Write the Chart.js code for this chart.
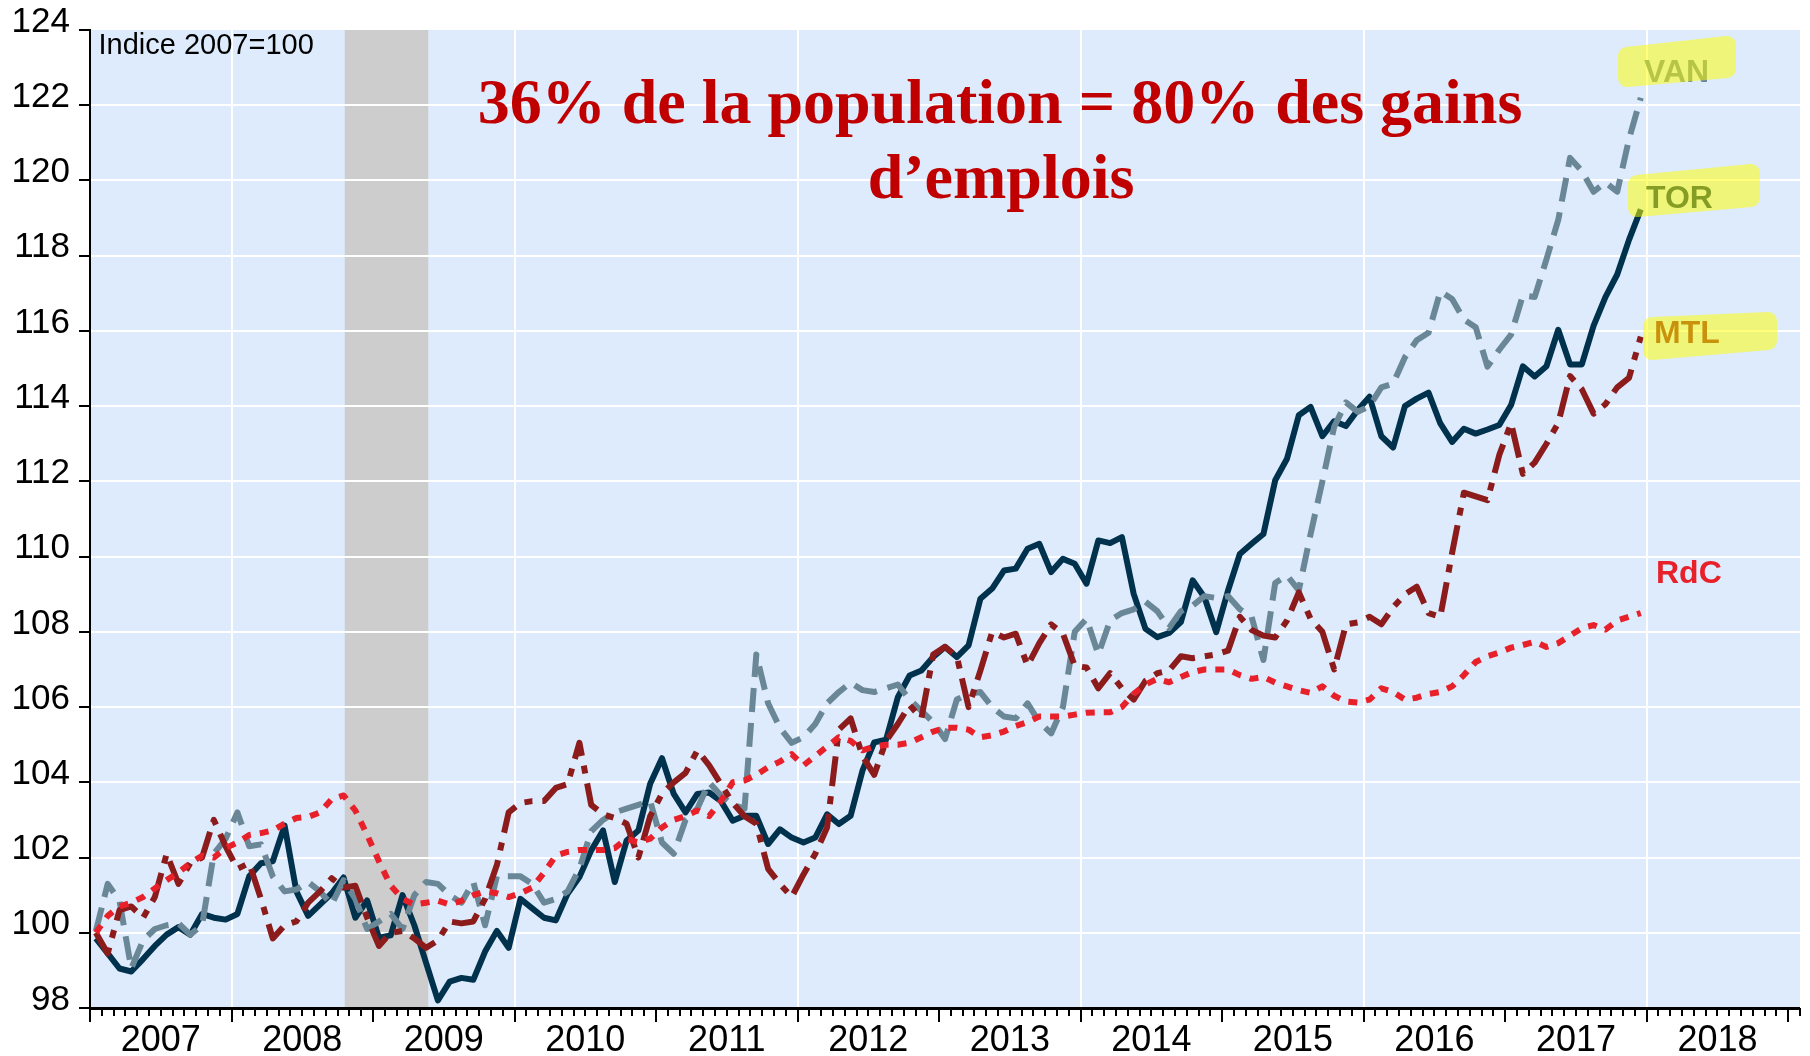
<!DOCTYPE html>
<html><head><meta charset="utf-8">
<script src="https://cdn.jsdelivr.net/npm/chart.js@4.4.1/dist/chart.umd.min.js"></script>
<style>
html,body{margin:0;padding:0;background:#fff;}
#wrap{position:relative;width:1810px;height:1056px;overflow:hidden;}
#c{position:absolute;left:0;top:0;}
#ov{position:absolute;left:0;top:0;pointer-events:none;}
</style></head><body>
<div id="wrap">
<canvas id="c" width="1810" height="1056"></canvas>
<svg id="ov" width="1810" height="1056" xmlns="http://www.w3.org/2000/svg">
  <text x="98.5" y="54" font-family="'Liberation Sans', Arial, sans-serif" font-size="29" fill="#000">Indice 2007=100</text>
  <text x="1000" y="123" text-anchor="middle" font-family="'Liberation Serif', 'Times New Roman', serif" font-weight="bold" font-size="64" fill="#C00000">36% de la population = 80% des gains</text>
  <text x="1001" y="198" text-anchor="middle" font-family="'Liberation Serif', 'Times New Roman', serif" font-weight="bold" font-size="64" fill="#C00000">d’emplois</text>
  <g font-family="'Liberation Sans', Arial, sans-serif" font-weight="bold" font-size="32">
    <text x="1644" y="82" fill="#6A8797">VAN</text>
    <text x="1646" y="208" fill="#00324D">TOR</text>
    <text x="1654" y="343" fill="#8C1C1C">MTL</text>
    <text x="1656" y="583" fill="#E8202A">RdC</text>
  </g>
  <g opacity="0.52" fill="#FFFF00" stroke="#FFFF00" stroke-width="18" stroke-linejoin="round">
    <polygon points="1627,56 1727,45 1727,69 1627,78"/>
    <polygon points="1637,184 1751,173 1751,198 1637,208"/>
    <polygon points="1652,326 1768,321 1768,341 1652,351"/>
  </g>
</svg>
</div>
<script>
const START_YEAR = 2007;
const YEAR_LABELS = ['2007','2008','2009','2010','2011','2012','2013','2014','2015','2016','2017','2018'];
const GRID_YEARS = [2008, 2010, 2012, 2014, 2016, 2018];
const Y_TICKS = [98,100,102,104,106,108,110,112,114,116,118,120,122,124];
const RECESSION = [2008.8, 2009.39];

const TOR = [
 99.85, 99.45, 99.05, 98.97, 99.3, 99.65, 99.95, 100.15, 99.95, 100.5, 100.4, 100.35,
 100.5, 101.5, 101.85, 101.9, 102.85, 101.1, 100.45, 100.75, 101.05, 101.47, 100.4, 100.86,
 99.87, 99.93, 101.0, 100.2, 99.2, 98.2, 98.7, 98.8, 98.75, 99.5, 100.05, 99.6,
 100.9, 100.65, 100.4, 100.33, 101.04, 101.48, 102.19, 102.72, 101.35, 102.45, 102.72, 103.96,
 104.64, 103.69, 103.2, 103.69, 103.73, 103.5, 102.98, 103.11, 103.11, 102.36, 102.75, 102.53,
 102.4, 102.53, 103.15, 102.89, 103.11, 104.31, 105.06, 105.13, 106.26, 106.84, 106.97, 107.33,
 107.6, 107.33, 107.64, 108.88, 109.15, 109.63, 109.68, 110.21, 110.34, 109.59, 109.94, 109.81,
 109.28, 110.43, 110.36, 110.52, 109.01, 108.08, 107.86, 107.97, 108.26, 109.37, 108.92, 107.99,
 109.1, 110.07, 110.34, 110.6, 112.03, 112.6, 113.76, 113.98, 113.2, 113.6, 113.47, 113.9,
 114.25, 113.2, 112.9, 114.0, 114.2, 114.36, 113.54, 113.05, 113.4, 113.27, 113.38, 113.5,
 114.03, 115.06, 114.79, 115.06, 116.03, 115.11, 115.11, 116.14, 116.9, 117.5, 118.42, 119.23
];
const VAN = [
 100.05, 101.3, 100.85, 99.05, 99.8, 100.1, 100.2, 100.25, 99.95, 100.2, 102.1, 102.5,
 103.2, 102.3, 102.35, 101.5, 101.1, 101.15, 101.35, 101.1, 100.75, 101.4, 100.9, 100.1,
 100.3, 100.5, 100.1, 101.0, 101.35, 101.3, 101.0, 100.8, 101.35, 100.2, 101.5, 101.5,
 101.5, 101.3, 100.8, 100.9, 101.1, 101.7, 102.7, 103.0, 103.2, 103.3, 103.4, 103.5,
 102.4, 102.1, 103.0, 103.3, 104.0, 103.65, 103.4, 103.3, 107.4, 106.1, 105.45, 105.05,
 105.2, 105.55, 106.1, 106.4, 106.65, 106.45, 106.4, 106.5, 106.6, 106.2, 105.9, 105.6,
 105.15, 106.2, 106.35, 106.4, 106.0, 105.75, 105.7, 106.1, 105.6, 105.3, 106.0, 108.0,
 108.35, 107.4, 108.3, 108.5, 108.6, 108.8, 108.55, 108.1, 108.55, 108.7, 108.95, 108.9,
 108.95, 108.6, 108.4, 107.25, 109.3, 109.5, 109.1, 110.6, 112.0, 113.45, 114.1, 113.85,
 114.0, 114.5, 114.6, 115.3, 115.75, 115.95, 117.05, 116.85, 116.3, 116.1, 115.05, 115.5,
 115.9, 116.95, 116.9, 117.9, 118.95, 120.6, 120.25, 119.7, 119.95, 119.7, 121.1, 122.2
];
const MTL = [
 100.0, 99.45, 100.6, 100.7, 100.4, 100.95, 102.1, 101.3, 101.85, 102.0, 103.0, 102.3,
 101.7, 101.85, 100.9, 99.85, 100.2, 100.3, 100.8, 101.1, 101.45, 101.2, 101.25, 100.4,
 99.65, 100.0, 100.05, 99.85, 99.6, 99.8, 100.3, 100.25, 100.3, 100.9, 101.8, 103.2,
 103.45, 103.5, 103.5, 103.85, 103.95, 105.05, 103.4, 103.15, 103.05, 102.9, 102.0, 103.1,
 103.7, 104.0, 104.25, 104.85, 104.45, 103.95, 103.45, 103.1, 102.9, 101.7, 101.3, 100.95,
 101.55, 102.1, 102.8, 105.4, 105.7, 104.7, 104.2, 105.1, 105.55, 106.05, 105.7, 107.4,
 107.6, 107.35, 106.0, 106.97, 108.0, 107.85, 107.95, 107.1, 107.7, 108.2, 107.95, 107.1,
 107.05, 106.5, 106.9, 106.5, 106.2, 106.7, 106.9, 106.97, 107.35, 107.3, 107.35, 107.4,
 107.5, 108.4, 108.05, 107.9, 107.85, 108.3, 109.05, 108.35, 108.0, 107.0, 108.2, 108.25,
 108.4, 108.2, 108.65, 109.0, 109.2, 108.5, 108.4, 110.1, 111.7, 111.6, 111.5, 112.7,
 113.55, 112.2, 112.5, 113.0, 113.55, 114.8, 114.45, 113.8, 114.05, 114.5, 114.75, 115.85
];
const RDC = [
 100.0, 100.45, 100.7, 100.8, 100.95, 101.18, 101.4, 101.6, 101.85, 102.05, 102.0, 102.25,
 102.4, 102.6, 102.65, 102.72, 102.9, 103.05, 103.08, 103.2, 103.55, 103.65, 103.25, 102.6,
 101.9, 101.25, 100.9, 100.75, 100.8, 100.85, 100.75, 100.85, 101.0, 101.1, 101.05, 100.95,
 101.05, 101.2, 101.6, 102.05, 102.15, 102.2, 102.2, 102.2, 102.25, 102.5, 102.4, 102.5,
 102.8, 103.0, 103.1, 103.25, 103.1, 103.5, 104.0, 104.05, 104.2, 104.4, 104.55, 104.75,
 104.45, 104.7, 104.95, 105.2, 105.1, 104.85, 104.95, 105.0, 105.0, 105.05, 105.2, 105.35,
 105.45, 105.45, 105.4, 105.2, 105.25, 105.35, 105.5, 105.6, 105.75, 105.75, 105.75, 105.8,
 105.85, 105.86, 105.86, 106.0, 106.35, 106.6, 106.75, 106.66, 106.8, 106.93, 107.0, 107.0,
 107.0, 106.85, 106.75, 106.8, 106.65, 106.55, 106.45, 106.38, 106.55, 106.3, 106.15, 106.12,
 106.2, 106.5, 106.4, 106.2, 106.25, 106.35, 106.4, 106.55, 106.85, 107.2, 107.35, 107.45,
 107.58, 107.65, 107.74, 107.6, 107.7, 107.9, 108.1, 108.18, 108.06, 108.3, 108.4, 108.5
];

const X_MIN = 2007, X_MAX = 2019 + 1/12;
const monthX = i => START_YEAR + (i + 0.5) / 12;
const toPts = arr => arr.map((v, i) => ({ x: monthX(i), y: v }));

Chart.defaults.font.family = "'Liberation Sans', Arial, sans-serif";

const decor = {
  id: 'decor',
  beforeDraw(chart) {
    const { ctx, chartArea: a, scales: { x } } = chart;
    ctx.save();
    ctx.fillStyle = '#DEEBFC';
    ctx.fillRect(a.left, a.top, a.right - a.left, a.bottom - a.top);
    const r0 = x.getPixelForValue(RECESSION[0]), r1 = x.getPixelForValue(RECESSION[1]);
    ctx.fillStyle = '#CDCDCD';
    ctx.fillRect(r0, a.top, r1 - r0, a.bottom - a.top);
    ctx.restore();
  },
  afterDraw(chart) {
    const { ctx, chartArea: a, scales: { x } } = chart;
    ctx.save();
    ctx.strokeStyle = '#000';
    ctx.lineWidth = 2;
    ctx.beginPath();
    const n = Math.round((X_MAX - X_MIN) * 12);
    for (let k = 0; k <= n; k++) {
      const xp = Math.round(x.getPixelForValue(X_MIN + k / 12));
      const len = (k % 12 === 0) ? 14 : 8;
      ctx.moveTo(xp, a.bottom); ctx.lineTo(xp, a.bottom + len);
    }
    ctx.stroke();
    ctx.lineWidth = 3;
    ctx.beginPath();
    ctx.moveTo(a.left - 1, a.bottom + 0.5); ctx.lineTo(a.right, a.bottom + 0.5);
    ctx.stroke();
    ctx.restore();
  }
};

const common = { pointRadius: 0, tension: 0, fill: false, borderCapStyle: 'butt', borderJoinStyle: 'round', xAxisID: 'x', yAxisID: 'y' };

new Chart(document.getElementById('c'), {
  type: 'line',
  data: {
    datasets: [
      Object.assign({ label: 'RdC', data: toPts(RDC), borderColor: '#E8202A', borderWidth: 6, borderDash: [9, 9], order: 1 }, common),
      Object.assign({ label: 'MTL', data: toPts(MTL), borderColor: '#8C1C1C', borderWidth: 6, borderDash: [30, 10, 8, 10], order: 2 }, common),
      Object.assign({ label: 'VAN', data: toPts(VAN), borderColor: '#6A8797', borderWidth: 6, borderDash: [24, 11], order: 3 }, common),
      Object.assign({ label: 'TOR', data: toPts(TOR), borderColor: '#00324D', borderWidth: 6, order: 4 }, common)
    ]
  },
  options: {
    responsive: false,
    devicePixelRatio: 1,
    animation: false,
    layout: { padding: { top: 29, right: 10, left: 0, bottom: 0 } },
    plugins: { legend: { display: false }, tooltip: { enabled: false } },
    scales: {
      x: {
        type: 'linear', min: X_MIN, max: X_MAX, position: 'bottom',
        afterBuildTicks: s => { s.ticks = GRID_YEARS.map(v => ({ value: v })); },
        ticks: { display: false },
        grid: { color: '#FFFFFF', lineWidth: 2, drawTicks: false },
        border: { display: false },
        afterFit: s => { s.height = 0; }
      },
      xl: {
        type: 'linear', min: X_MIN, max: X_MAX, position: 'bottom',
        afterBuildTicks: s => { s.ticks = YEAR_LABELS.map((l, i) => ({ value: START_YEAR + i + 0.5 })); },
        ticks: { font: { size: 36 }, color: '#000', padding: 11, autoSkip: false, maxRotation: 0, minRotation: 0,
                 callback: (v, i) => YEAR_LABELS[i] },
        grid: { display: false, drawTicks: false },
        border: { display: false },
        afterFit: s => { s.height = 48; }
      },
      y: {
        type: 'linear', min: 98, max: 124,
        afterBuildTicks: s => { s.ticks = Y_TICKS.map(v => ({ value: v })); },
        ticks: { font: { size: 35 }, color: '#000', padding: 9, labelOffset: -8, autoSkip: false,
                 callback: v => String(v) },
        grid: {
          color: c => (c.tick && (c.tick.value === 98 || c.tick.value === 124)) ? 'rgba(0,0,0,0)' : '#FFFFFF',
          lineWidth: 2, tickLength: 11, tickColor: '#000', tickWidth: 2, drawTicks: true
        },
        border: { display: true, color: '#000', width: 2 },
        afterFit: s => { s.width = 90; }
      }
    }
  },
  plugins: [decor]
});
</script>
</body></html>
